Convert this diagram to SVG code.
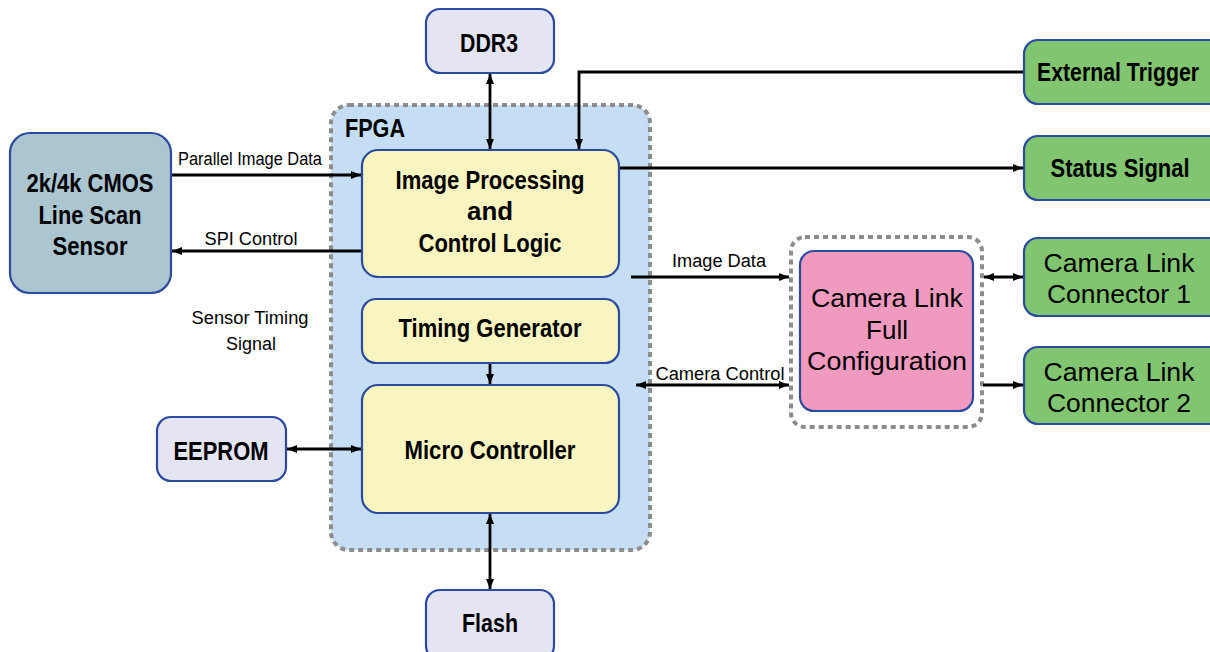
<svg xmlns="http://www.w3.org/2000/svg" width="1210" height="652" viewBox="0 0 1210 652">
  <style>
    .box { stroke: #2c4b9f; stroke-width: 2.2; }
    .mem { fill: #e4e4f3; }
    .logic { fill: #f8f5c1; }
    .ext { fill: #81c571; }
    .sensor { fill: #abc5d1; }
    .cl { fill: #f09abf; }
    .group { stroke: #8c8c8c; stroke-width: 4; stroke-dasharray: 5 4; }
    .b { font-family: "Liberation Sans", Arial, sans-serif; font-weight: bold; font-size: 25px; fill: #000; text-anchor: middle; }
    .r { font-family: "Liberation Sans", Arial, sans-serif; font-size: 26px; fill: #000; text-anchor: middle; }
    .s { font-family: "Liberation Sans", Arial, sans-serif; font-size: 18px; fill: #000; text-anchor: middle; }
    .wire { stroke: #000; stroke-width: 2.8; fill: none; }
  </style>
  <defs>
    <marker id="ah" viewBox="0 0 10 8" refX="10" refY="4" markerWidth="10" markerHeight="8" markerUnits="userSpaceOnUse" orient="auto-start-reverse">
      <path d="M0,0 L10,4 L0,8 z" fill="#000"/>
    </marker>
  </defs>

  <rect width="1210" height="652" fill="#fff"/>

  <!-- FPGA container -->
  <g id="fpga">
    <rect class="group" x="331" y="105" width="319" height="445" rx="18" fill="#c5def3"/>
    <text class="b" x="375" y="137" font-size="23" textLength="60" lengthAdjust="spacingAndGlyphs">FPGA</text>
  </g>

  <!-- Camera Link group -->
  <g id="camlink-group">
    <rect class="group" x="791" y="237" width="191" height="190" rx="14" fill="none"/>
  </g>

  <!-- connectors -->
  <g id="connectors">
    <line class="wire" x1="171" y1="175" x2="361" y2="175" marker-end="url(#ah)"/>
    <line class="wire" x1="361" y1="251" x2="172" y2="251" marker-end="url(#ah)"/>
    <line class="wire" x1="490" y1="74" x2="490" y2="149" marker-start="url(#ah)" marker-end="url(#ah)"/>
    <polyline class="wire" points="1024,72 579,72 579,149" marker-end="url(#ah)"/>
    <line class="wire" x1="619" y1="168" x2="1023" y2="168" marker-end="url(#ah)"/>
    <line class="wire" x1="631" y1="277" x2="789" y2="277" marker-end="url(#ah)"/>
    <line class="wire" x1="636" y1="385" x2="789" y2="385" marker-start="url(#ah)" marker-end="url(#ah)"/>
    <line class="wire" x1="984" y1="277" x2="1023" y2="277" marker-start="url(#ah)" marker-end="url(#ah)"/>
    <line class="wire" x1="983" y1="385" x2="1023" y2="385" marker-end="url(#ah)"/>
    <line class="wire" x1="490" y1="364" x2="490" y2="384" marker-end="url(#ah)"/>
    <line class="wire" x1="287" y1="449" x2="361" y2="449" marker-start="url(#ah)" marker-end="url(#ah)"/>
    <line class="wire" x1="490" y1="514" x2="490" y2="589" marker-start="url(#ah)" marker-end="url(#ah)"/>

    <text class="s" x="250" y="165" textLength="144" lengthAdjust="spacingAndGlyphs">Parallel Image Data</text>
    <text class="s" x="251" y="245" textLength="93" lengthAdjust="spacingAndGlyphs">SPI Control</text>
    <text class="s" x="719" y="267" textLength="94" lengthAdjust="spacingAndGlyphs">Image Data</text>
    <text class="s" x="720" y="380" textLength="129" lengthAdjust="spacingAndGlyphs">Camera Control</text>
    <text class="s" x="250" y="324" textLength="117" lengthAdjust="spacingAndGlyphs">Sensor Timing</text>
    <text class="s" x="251" y="350" textLength="50" lengthAdjust="spacingAndGlyphs">Signal</text>
  </g>

  <!-- sensor -->
  <g id="sensor">
    <rect class="box sensor" x="10" y="133" width="161" height="160" rx="20"/>
    <text class="b" x="90" y="192" textLength="127" lengthAdjust="spacingAndGlyphs">2k/4k CMOS</text>
    <text class="b" x="90" y="224" textLength="103" lengthAdjust="spacingAndGlyphs">Line Scan</text>
    <text class="b" x="90" y="255" textLength="75" lengthAdjust="spacingAndGlyphs">Sensor</text>
  </g>

  <!-- FPGA internal blocks -->
  <g id="image-processing">
    <rect class="box logic" x="362" y="150" width="257" height="127" rx="16"/>
    <text class="b" x="490" y="189" textLength="189" lengthAdjust="spacingAndGlyphs">Image Processing</text>
    <text class="b" x="490" y="220" textLength="46" lengthAdjust="spacingAndGlyphs">and</text>
    <text class="b" x="490" y="252" textLength="143" lengthAdjust="spacingAndGlyphs">Control Logic</text>
  </g>
  <g id="timing-generator">
    <rect class="box logic" x="362" y="299" width="257" height="64" rx="14"/>
    <text class="b" x="490" y="337" textLength="183" lengthAdjust="spacingAndGlyphs">Timing Generator</text>
  </g>
  <g id="micro-controller">
    <rect class="box logic" x="362" y="385" width="257" height="128" rx="16"/>
    <text class="b" x="490" y="459" textLength="171" lengthAdjust="spacingAndGlyphs">Micro Controller</text>
  </g>

  <!-- memories -->
  <g id="ddr3">
    <rect class="box mem" x="426" y="9" width="128" height="64" rx="14"/>
    <text class="b" x="489" y="52" textLength="58" lengthAdjust="spacingAndGlyphs">DDR3</text>
  </g>
  <g id="eeprom">
    <rect class="box mem" x="157" y="417" width="129" height="64" rx="14"/>
    <text class="b" x="221" y="460" textLength="95" lengthAdjust="spacingAndGlyphs">EEPROM</text>
  </g>
  <g id="flash">
    <rect class="box mem" x="426" y="590" width="128" height="70" rx="14"/>
    <text class="b" x="490" y="632" textLength="56" lengthAdjust="spacingAndGlyphs">Flash</text>
  </g>

  <!-- external interfaces -->
  <g id="external-trigger">
    <rect class="box ext" x="1024" y="40" width="200" height="64" rx="14"/>
    <text class="b" x="1118" y="81" textLength="162" lengthAdjust="spacingAndGlyphs">External Trigger</text>
  </g>
  <g id="status-signal">
    <rect class="box ext" x="1024" y="136" width="200" height="64" rx="14"/>
    <text class="b" x="1120" y="177" textLength="139" lengthAdjust="spacingAndGlyphs">Status Signal</text>
  </g>
  <g id="camera-link">
    <rect class="box cl" x="800" y="251" width="173" height="160" rx="14"/>
    <text class="r" x="887" y="307" textLength="152" lengthAdjust="spacingAndGlyphs">Camera Link</text>
    <text class="r" x="887" y="339">Full</text>
    <text class="r" x="887" y="370" textLength="160" lengthAdjust="spacingAndGlyphs">Configuration</text>
  </g>
  <g id="connector-1">
    <rect class="box ext" x="1024" y="238" width="200" height="78" rx="14"/>
    <text class="r" x="1119" y="272" textLength="151" lengthAdjust="spacingAndGlyphs">Camera Link</text>
    <text class="r" x="1119" y="303" textLength="144" lengthAdjust="spacingAndGlyphs">Connector 1</text>
  </g>
  <g id="connector-2">
    <rect class="box ext" x="1024" y="347" width="200" height="77" rx="14"/>
    <text class="r" x="1119" y="381" textLength="151" lengthAdjust="spacingAndGlyphs">Camera Link</text>
    <text class="r" x="1119" y="412" textLength="144" lengthAdjust="spacingAndGlyphs">Connector 2</text>
  </g>
</svg>
